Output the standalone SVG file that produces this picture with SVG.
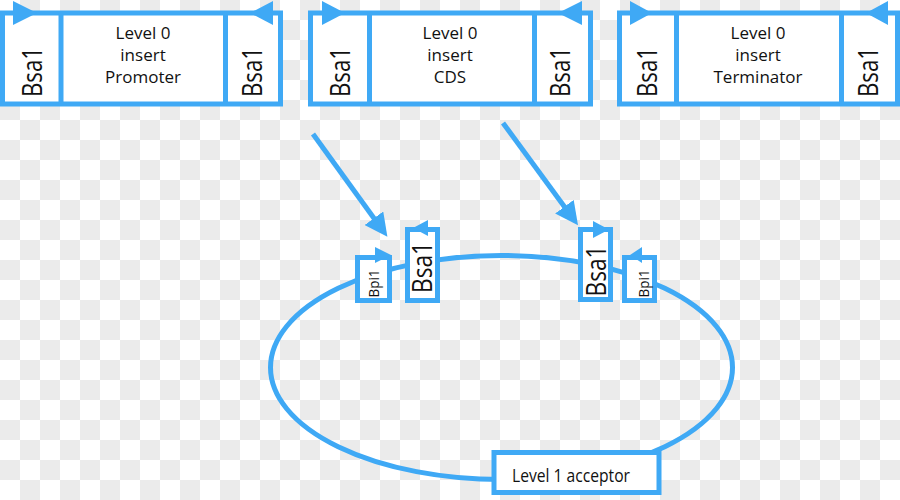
<svg xmlns="http://www.w3.org/2000/svg" width="900" height="500" viewBox="0 0 900 500">
<defs>
<pattern id="checker" width="40" height="40" patternUnits="userSpaceOnUse">
<rect width="40" height="40" fill="#ffffff"/>
<rect x="20" y="0" width="20" height="20" fill="#ebebeb"/>
<rect x="0" y="20" width="20" height="20" fill="#ebebeb"/>
</pattern>
<marker id="arrow" markerUnits="userSpaceOnUse" markerWidth="23" markerHeight="23" viewBox="0 0 23 23" refX="1" refY="11.5" orient="auto">
<path d="M0,0 L23,11.5 L0,23 Z" fill="#3fa9f5"/>
</marker>
<style>
.box{fill:#ffffff;stroke:#3fa9f5;stroke-width:5}
.div{stroke:#3fa9f5;stroke-width:5;fill:none}
.tri{fill:#3fa9f5}
.lbl{font-family:"Open Sans","Noto Sans","Liberation Sans",sans-serif;font-size:17px;fill:#111111;text-anchor:middle}
.bsa{font-family:"Open Sans","Noto Sans","Liberation Sans",sans-serif;font-size:28px;fill:#111111;text-anchor:middle}
.bpi{font-family:"Open Sans","Noto Sans","Liberation Sans",sans-serif;font-size:15px;fill:#111111;text-anchor:middle}
.conn{stroke:#3fa9f5;stroke-width:5;fill:none}
</style>
</defs>
<rect x="0" y="0" width="900" height="500" fill="url(#checker)"/>

<g id="plasmid">
<ellipse cx="501.5" cy="367.5" rx="231" ry="112" class="conn"/>
</g>

<g id="connectors">
<line x1="313" y1="134" x2="374.5" y2="219" class="conn" marker-end="url(#arrow)"/>
<line x1="503" y1="123" x2="565" y2="207.5" class="conn" marker-end="url(#arrow)"/>
</g>

<g id="insert-promoter">
<rect x="2.5" y="13" width="278" height="91" class="box"/>
<line x1="61" y1="13" x2="61" y2="104" class="div"/>
<line x1="225.5" y1="13" x2="225.5" y2="104" class="div"/>
<polygon points="13,1 13,25 37,13" class="tri"/>
<polygon points="273,1 273,25 250,13" class="tri"/>
<text class="bsa" transform="translate(42,72) rotate(-90)" textLength="50" lengthAdjust="spacingAndGlyphs">Bsa1</text>
<text class="bsa" transform="translate(262,72) rotate(-90)" textLength="50" lengthAdjust="spacingAndGlyphs">Bsa1</text>
<text class="lbl" x="143" y="39">Level 0</text>
<text class="lbl" x="143" y="61">insert</text>
<text class="lbl" x="143" y="83">Promoter</text>
</g>

<g id="insert-cds">
<rect x="310.5" y="13" width="280" height="91" class="box"/>
<line x1="369.5" y1="13" x2="369.5" y2="104" class="div"/>
<line x1="534.5" y1="13" x2="534.5" y2="104" class="div"/>
<polygon points="322,1 322,25 345,13" class="tri"/>
<polygon points="582,1 582,25 558,13" class="tri"/>
<text class="bsa" transform="translate(350,72) rotate(-90)" textLength="50" lengthAdjust="spacingAndGlyphs">Bsa1</text>
<text class="bsa" transform="translate(570,72) rotate(-90)" textLength="50" lengthAdjust="spacingAndGlyphs">Bsa1</text>
<text class="lbl" x="450" y="39">Level 0</text>
<text class="lbl" x="450" y="61">insert</text>
<text class="lbl" x="450" y="83">CDS</text>
</g>

<g id="insert-terminator">
<rect x="619.5" y="13" width="278" height="91" class="box"/>
<line x1="676.5" y1="13" x2="676.5" y2="104" class="div"/>
<line x1="841.5" y1="13" x2="841.5" y2="104" class="div"/>
<polygon points="630,1 630,25 652,13" class="tri"/>
<polygon points="888,1 888,25 866,13" class="tri"/>
<text class="bsa" transform="translate(657,72) rotate(-90)" textLength="50" lengthAdjust="spacingAndGlyphs">Bsa1</text>
<text class="bsa" transform="translate(878,72) rotate(-90)" textLength="50" lengthAdjust="spacingAndGlyphs">Bsa1</text>
<text class="lbl" x="758" y="39">Level 0</text>
<text class="lbl" x="758" y="61">insert</text>
<text class="lbl" x="758" y="83">Terminator</text>
</g>

<g id="site-bpi1-left">
<rect x="357.5" y="257.5" width="32" height="43" class="box"/>
<polygon points="375,247 375,263 391,255" class="tri"/>
<text class="bpi" transform="translate(378.5,283.5) rotate(-90)" textLength="28" lengthAdjust="spacingAndGlyphs">Bpi1</text>
</g>

<g id="site-bsa1-left">
<rect x="407.5" y="229.5" width="30" height="71" class="box"/>
<polygon points="428,220 428,236 413,228" class="tri"/>
<text class="bsa" transform="translate(432,267.5) rotate(-90)" textLength="51" lengthAdjust="spacingAndGlyphs">Bsa1</text>
</g>

<g id="site-bsa1-right">
<rect x="580.5" y="229.5" width="30" height="70" class="box"/>
<polygon points="593,221 593,238 609,229.5" class="tri"/>
<text class="bsa" transform="translate(606,271) rotate(-90)" textLength="51" lengthAdjust="spacingAndGlyphs">Bsa1</text>
</g>

<g id="site-bpi1-right">
<rect x="624.5" y="257.5" width="30" height="43" class="box"/>
<polygon points="642,247 642,263 630,255" class="tri"/>
<text class="bpi" transform="translate(648.5,283.5) rotate(-90)" textLength="28" lengthAdjust="spacingAndGlyphs">Bpi1</text>
</g>

<g id="level1-acceptor">
<rect x="494" y="452.5" width="165" height="40" class="box"/>
<text class="lbl" x="571" y="482" style="font-size:18px" textLength="118" lengthAdjust="spacingAndGlyphs">Level 1 acceptor</text>
</g>
</svg>
